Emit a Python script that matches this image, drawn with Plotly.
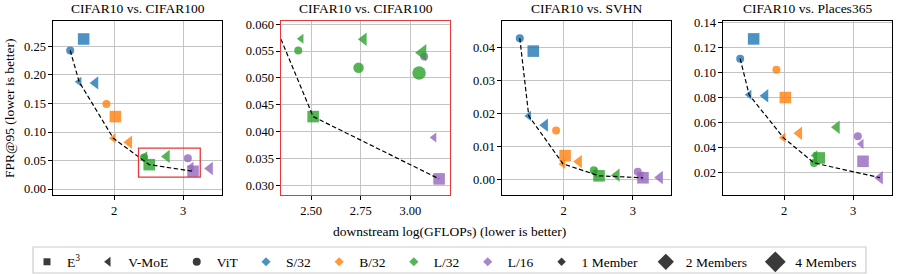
import plotly.graph_objects as go

# ---------------- data ----------------
panel_titles = ["CIFAR10 vs. CIFAR100", "CIFAR10 vs. CIFAR100",
                "CIFAR10 vs. SVHN", "CIFAR10 vs. Places365"]
backbones = ["S/32", "B/32", "L/32", "L/16"]
backbone_colors = ["#1f77b4", "#ff7f0e", "#2ca02c", "#9467bd"]

# downstream log(GFLOPs), one value per backbone
vit_x = [1.365, 1.89, 2.435, 3.07]      # ViT, 1 member
vmoe1_x = [1.495, 1.99, 2.45, 3.12]     # V-MoE, 1 member
e3_x = [1.56, 2.02, 2.51, 3.145]        # E^3, 2 members
vmoe2_x = [1.73, 2.22, 2.765, 3.39]     # V-MoE, 2 members

# FPR@95, CIFAR100
c100_vit = [0.243, 0.149, 0.0551, 0.054]
c100_vmoe1 = [0.188, 0.089, 0.0573, 0.0389]
c100_e3 = [0.263, 0.127, 0.0428, 0.0312]
c100_vmoe2 = [0.186, 0.082, 0.0572, 0.036]

# extra L/32 ensembles shown in the zoomed panel
zoom_vit_x = [2.739, 3.044]
zoom_vit_y = [0.0519, 0.0509]
zoom_vit_members = [2, 4]
zoom_vmoe_x = [3.062]
zoom_vmoe_y = [0.0547]
zoom_vmoe_members = [4]

# FPR@95, SVHN
svhn_vit = [0.0427, 0.0148, 0.0028, 0.0023]
svhn_vmoe1 = [0.0192, 0.0047, 0.0020, 0.0010]
svhn_e3 = [0.0388, 0.0072, 0.0011, 0.0005]
svhn_vmoe2 = [0.0164, 0.0054, 0.0013, 0.0006]

# FPR@95, Places365
places_vit = [0.1112, 0.1024, 0.0280, 0.0493]
places_vmoe1 = [0.0824, 0.0482, 0.0340, 0.0432]
places_e3 = [0.1270, 0.0802, 0.0320, 0.0293]
places_vmoe2 = [0.0816, 0.0517, 0.0565, 0.0162]

# zoom box drawn on the first panel
inset_box_x = [2.355, 3.25]
inset_box_y = [0.021, 0.0717]

member_labels = ["1 Member", "2 Members", "4 Members"]
member_counts = [1, 2, 4]

# ---------------- styling ----------------
FONT = "Liberation Serif"
member_size = {1: 8, 2: 10.5, 4: 13.5}
TRI = 1.1      # plotly triangles are narrower than matplotlib ones
SQ = 1.1
family_symbol = {"E3": "square", "V-MoE": "triangle-left", "ViT": "circle"}
ALPHA = 0.8
RED = "#e8363a"
W, H = 899, 274

fig = go.Figure()

y_top, y_bot = 1 - 21 / H, 1 - 195 / H
domains = [(53, 222), (281, 450), (502, 671), (723, 892)]
x_ranges = [[1.116, 3.565], [2.348, 3.20], [1.108, 3.55], [1.116, 3.565]]
y_ranges = [[-0.0104, 0.2945], [0.0282, 0.0606], [-0.0047, 0.0479], [0.0024, 0.1413]]
y_ticks = [[0, 0.05, 0.10, 0.15, 0.20, 0.25],
           [0.030, 0.035, 0.040, 0.045, 0.050, 0.055, 0.060],
           [0, 0.01, 0.02, 0.03, 0.04],
           [0.02, 0.04, 0.06, 0.08, 0.10, 0.12, 0.14]]
y_fmt = [".2f", ".3f", ".2f", ".2f"]
x_ticks = [[2, 3], [2.5, 2.75, 3.0], [2, 3], [2, 3]]
x_fmt = ["d", ".2f", "d", "d"]

panel_data = [
    (c100_vit, c100_vmoe1, c100_e3, c100_vmoe2),
    (c100_vit, c100_vmoe1, c100_e3, c100_vmoe2),
    (svhn_vit, svhn_vmoe1, svhn_e3, svhn_vmoe2),
    (places_vit, places_vmoe1, places_e3, places_vmoe2),
]


def lower_frontier(xs, ys):
    pts = sorted(zip(xs, ys))
    hull = []
    for p in pts:
        while len(hull) >= 2:
            (x1, y1), (x2, y2) = hull[-2], hull[-1]
            cross = (x2 - x1) * (p[1] - y1) - (y2 - y1) * (p[0] - x1)
            if cross <= 0:
                hull.pop()
            else:
                break
        hull.append(p)
    i_min = min(range(len(hull)), key=lambda i: hull[i][1])
    hull = hull[: i_min + 1]
    return [h[0] for h in hull], [h[1] for h in hull]


for i, (vit_y, vmoe1_y, e3_y, vmoe2_y) in enumerate(panel_data):
    ax = "" if i == 0 else str(i + 1)
    xa, ya = "x" + ax, "y" + ax
    # ViT
    vx, vy, vc, vs = list(vit_x), list(vit_y), list(backbone_colors), [member_size[1]] * 4
    if i == 1:
        vx += zoom_vit_x
        vy += zoom_vit_y
        vc += [backbone_colors[2]] * len(zoom_vit_x)
        vs += [member_size[m] for m in zoom_vit_members]
    fig.add_trace(go.Scatter(x=vx, y=vy, mode="markers", xaxis=xa, yaxis=ya, showlegend=False,
                             marker=dict(symbol="circle", size=vs, color=vc, opacity=ALPHA, line=dict(width=0))))
    # V-MoE
    mx = list(vmoe1_x) + list(vmoe2_x)
    my = list(vmoe1_y) + list(vmoe2_y)
    mc = list(backbone_colors) * 2
    ms = [member_size[1]] * 4 + [member_size[2]] * 4
    if i == 1:
        mx += zoom_vmoe_x
        my += zoom_vmoe_y
        mc += [backbone_colors[2]] * len(zoom_vmoe_x)
        ms += [member_size[m] for m in zoom_vmoe_members]
    fig.add_trace(go.Scatter(x=mx, y=my, mode="markers", xaxis=xa, yaxis=ya, showlegend=False,
                             marker=dict(symbol="triangle-left", size=[s * TRI for s in ms], color=mc,
                                         opacity=ALPHA, line=dict(width=0))))
    # E3
    fig.add_trace(go.Scatter(x=e3_x, y=e3_y, mode="markers", xaxis=xa, yaxis=ya, showlegend=False,
                             marker=dict(symbol="square", size=member_size[2] * SQ, color=backbone_colors,
                                         opacity=ALPHA, line=dict(width=0))))
    # frontier
    fx, fy = lower_frontier(vit_x + vmoe1_x + e3_x + vmoe2_x, vit_y + vmoe1_y + e3_y + vmoe2_y)
    fig.add_trace(go.Scatter(x=fx, y=fy, mode="lines", xaxis=xa, yaxis=ya, showlegend=False,
                             line=dict(color="black", width=1.2, dash="4.5px,2.5px")))

    spine = RED if i == 1 else "black"
    common = dict(showgrid=True, gridcolor="#c4c4c4", gridwidth=1, zeroline=False,
                  showline=True, linecolor=spine, linewidth=1.2, mirror=True,
                  ticks="outside", ticklen=3.5, tickcolor="black", automargin=False,
                  tickfont=dict(family=FONT, size=12.5, color="black"))
    fig.update_layout({
        "xaxis" + ax: dict(domain=[domains[i][0] / W, domains[i][1] / W], anchor=ya,
                           range=x_ranges[i], tickvals=x_ticks[i], tickformat=x_fmt[i], **common),
        "yaxis" + ax: dict(domain=[y_bot, y_top], anchor=xa, range=y_ranges[i], tickvals=y_ticks[i],
                           tickformat=y_fmt[i], **common),
    })
    fig.add_annotation(text=panel_titles[i], xref="paper", yref="paper",
                       x=(domains[i][0] + domains[i][1]) / 2 / W, y=1 - 8.5 / H,
                       xanchor="center", yanchor="middle", showarrow=False,
                       font=dict(family=FONT, size=13.5, color="black"))

fig.add_shape(type="rect", xref="x", yref="y", x0=inset_box_x[0], x1=inset_box_x[1],
              y0=inset_box_y[0], y1=inset_box_y[1], line=dict(color=RED, width=1.3))

# legend frame (matplotlib style)
fig.add_shape(type="rect", xref="paper", yref="paper", x0=33 / W, x1=866 / W,
              y0=1 - 273 / H, y1=1 - 247 / H, line=dict(color="#cccccc", width=1.2),
              fillcolor="rgba(0,0,0,0)", layer="below")

# legend entries
DARK = "#3a3a3a"
PAD = "&nbsp;"
legend_family = [("E<sup>3</sup>", "E3", 7), ("V-MoE", "V-MoE", 8.5), ("ViT", "ViT", 8)]
for name, key, sz in legend_family:
    fig.add_trace(go.Scatter(x=[None], y=[None], mode="markers", name=name + PAD,
                             marker=dict(symbol=family_symbol[key], size=sz, color=DARK)))
for name, col in zip(backbones, backbone_colors):
    fig.add_trace(go.Scatter(x=[None], y=[None], mode="markers", name=name + PAD,
                             marker=dict(symbol="diamond", size=7, color=col, opacity=ALPHA)))
legend_member_size = {1: 6.5, 2: 12.5, 4: 16}
for name, m in zip(member_labels, member_counts):
    fig.add_trace(go.Scatter(x=[None], y=[None], mode="markers", name=name + PAD,
                             marker=dict(symbol="diamond", size=legend_member_size[m], color=DARK)))

fig.add_annotation(text="downstream log(GFLOPs) (lower is better)", xref="paper", yref="paper",
                   x=449 / W, y=1 - 231 / H, xanchor="center", yanchor="middle",
                   showarrow=False, font=dict(family=FONT, size=13.5, color="black"))
fig.add_annotation(text="FPR@95 (lower is better)", xref="paper", yref="paper",
                   x=10 / W, y=1 - 108 / H, xanchor="center", yanchor="middle", textangle=-90,
                   showarrow=False, font=dict(family=FONT, size=13.5, color="black"))

fig.update_layout(
    width=W, height=H, margin=dict(l=0, r=0, t=0, b=0, autoexpand=False),
    paper_bgcolor="white", plot_bgcolor="white",
    font=dict(family=FONT, size=13.5, color="black"),
    legend=dict(orientation="h", x=446 / W, xanchor="center", y=1 - 262 / H, yanchor="middle",
                borderwidth=0, bgcolor="rgba(0,0,0,0)",
                font=dict(family=FONT, size=13.5, color="black"), itemsizing="trace"),
)

fig.write_html("out.html", config={"displayModeBar": False},
               post_script="document.body.style.margin='0';document.body.style.padding='0';"
                           "document.documentElement.style.overflow='hidden';")
